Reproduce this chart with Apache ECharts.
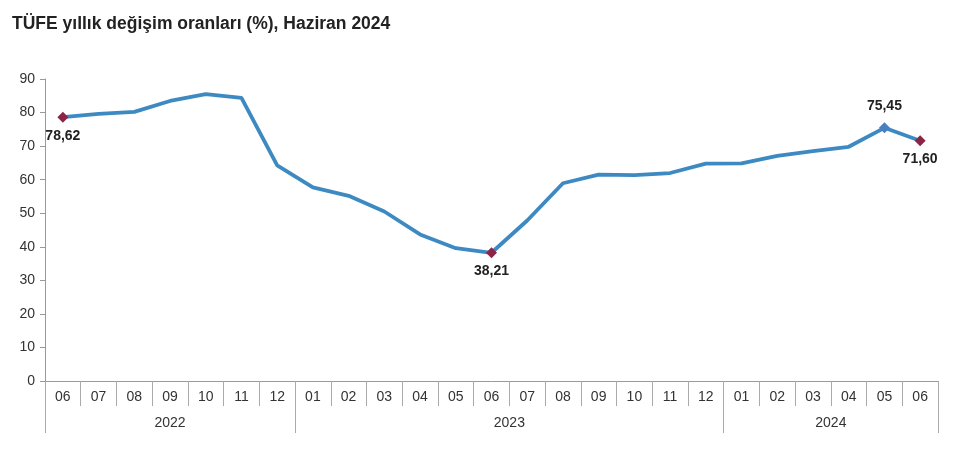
<!DOCTYPE html>
<html><head><meta charset="utf-8">
<script src="https://cdn.jsdelivr.net/npm/echarts@6/dist/echarts.min.js"></script>
<style>html,body{margin:0;padding:0;background:#fff}#c{width:977px;height:450px}</style>
</head><body><div id="c"></div>
<script>
const months = ['06','07','08','09','10','11','12','01','02','03','04','05','06','07','08','09','10','11','12','01','02','03','04','05','06'];
const values = [78.62,79.60,80.21,83.45,85.51,84.39,64.27,57.68,55.18,50.51,43.68,39.59,38.21,47.83,58.94,61.53,61.36,61.98,64.77,64.86,67.07,68.50,69.80,75.45,71.60];
const years = ['2022','2023','2024'];
const yearStarts = [0,7,19];
const yearLabelPos = [3.5,13,22];
const highlighted = [0,12,23,24];
const labelBelow = [0,12,24];
const yTicks = [0,10,20,30,40,50,60,70,80,90];

const font = '"Liberation Sans", Arial, sans-serif';
const seriesData = values.map((v,i)=>{
  if (highlighted.indexOf(i) < 0) return v;
  const blue = (i === 23);
  const below = labelBelow.indexOf(i) >= 0;
  return {
    value: v,
    symbol: 'diamond',
    symbolSize: 11,
    itemStyle: {color: blue ? '#4A7FBF' : '#8B2546'},
    label: {show: true, position: below ? 'bottom' : 'top', distance: below ? 6 : 9,
      formatter: p => p.value.toFixed(2).replace('.', ','),
      fontFamily: font, fontWeight: 'bold', fontSize: 14, color: '#222'}
  };
});

const chart = echarts.init(document.getElementById('c'));
chart.setOption({
  animation: false,
  title: {text: 'TÜFE yıllık değişim oranları (%), Haziran 2024', left: 7, top: 10,
    textStyle: {fontFamily: font, fontWeight: 'bold', fontSize: 17.5, color: '#222'}},
  grid: {left: 45, right: 39, top: 79, bottom: 69},
  xAxis: [
    {type: 'category', data: months, boundaryGap: true,
     axisLine: {lineStyle: {color: '#999', width: 1}},
     axisTick: {show: true, interval: 0, length: 25, lineStyle: {color: '#aaa'}},
     axisLabel: {interval: 0, margin: 9, fontFamily: font, fontSize: 14, color: '#333'}},
    {type: 'category', data: months, boundaryGap: true, position: 'bottom',
     axisLine: {show: false},
     axisTick: {show: true, length: 52, lineStyle: {color: '#aaa'},
       interval: (idx) => yearStarts.indexOf(idx) >= 0},
     axisLabel: {show: false}},
    {type: 'value', min: 0, max: 25, interval: 0.5, position: 'bottom',
     axisLine: {show: false}, axisTick: {show: false}, splitLine: {show: false},
     axisLabel: {margin: 35, fontFamily: font, fontSize: 14, color: '#333',
       showMinLabel: true, showMaxLabel: true,
       formatter: v => { const k = yearLabelPos.indexOf(v); return k >= 0 ? years[k] : ''; }}}
  ],
  yAxis: {type: 'value', min: yTicks[0], max: yTicks[yTicks.length-1], interval: 10,
    axisLine: {show: true, lineStyle: {color: '#999'}},
    axisTick: {show: true, length: 5, lineStyle: {color: '#999'}},
    splitLine: {show: false},
    axisLabel: {margin: 10, fontFamily: font, fontSize: 14, color: '#333'}},
  series: [{
    type: 'line', xAxisIndex: 0, data: seriesData, symbol: 'none',
    lineStyle: {color: '#3D8AC2', width: 3.8}, itemStyle: {color: '#3D8AC2'},
    emphasis: {disabled: true}
  }]
});
</script></body></html>
